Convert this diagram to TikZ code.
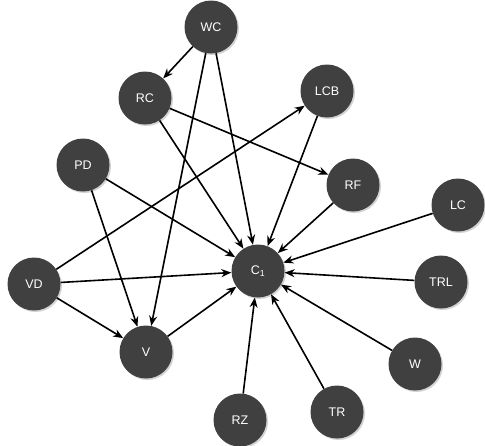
\documentclass[tikz,border=0pt]{standalone}
\usepackage{fontspec}
\setmainfont{Liberation Sans}
\usetikzlibrary{arrows.meta,shadows}
\definecolor{nodegray}{HTML}{404040}
\tikzset{
  vnode/.style={circle, fill=nodegray, draw=none, minimum size=53pt, inner sep=0pt,
    text=white, font=\fontsize{12.5}{13}\selectfont,
    drop shadow={shadow xshift=1.5pt, shadow yshift=-1.5pt, opacity=0.35}},
  edge/.style={line width=1.6pt, -{Stealth[length=10pt,width=8pt]}}
}
\begin{document}
\begin{tikzpicture}[x=1pt,y=-1pt]
\useasboundingbox (0,0) rectangle (485,445);
\node[vnode] (WC)  at (211,27)  {WC};
\node[vnode] (RC)  at (145,98)  {RC};
\node[vnode] (LCB) at (327,91)  {LCB};
\node[vnode] (PD)  at (83,165)  {PD};
\node[vnode] (RF)  at (353,185) {RF};
\node[vnode] (LC)  at (458,205) {LC};
\node[vnode] (VD)  at (34,284)  {VD};
\node[vnode] (C1)  at (258,271) {C\textsubscript{1}};
\node[vnode] (TRL) at (441,282) {TRL};
\node[vnode] (V)   at (146,352) {V};
\node[vnode] (W)   at (415,364) {W};
\node[vnode] (RZ)  at (240,420) {RZ};
\node[vnode] (TR)  at (337,412) {TR};
\draw[edge] (WC) -- (RC);
\draw[edge] (WC) -- (V);
\draw[edge] (WC) -- (C1);
\draw[edge] (RC) -- (RF);
\draw[edge] (RC) -- (C1);
\draw[edge] (LCB) -- (C1);
\draw[edge] (VD) -- (LCB);
\draw[edge] (PD) -- (C1);
\draw[edge] (PD) -- (V);
\draw[edge] (VD) -- (C1);
\draw[edge] (VD) -- (V);
\draw[edge] (V) -- (C1);
\draw[edge] (RF) -- (C1);
\draw[edge] (LC) -- (C1);
\draw[edge] (TRL) -- (C1);
\draw[edge] (W) -- (C1);
\draw[edge] (RZ) -- (C1);
\draw[edge] (TR) -- (C1);
\end{tikzpicture}
\end{document}
